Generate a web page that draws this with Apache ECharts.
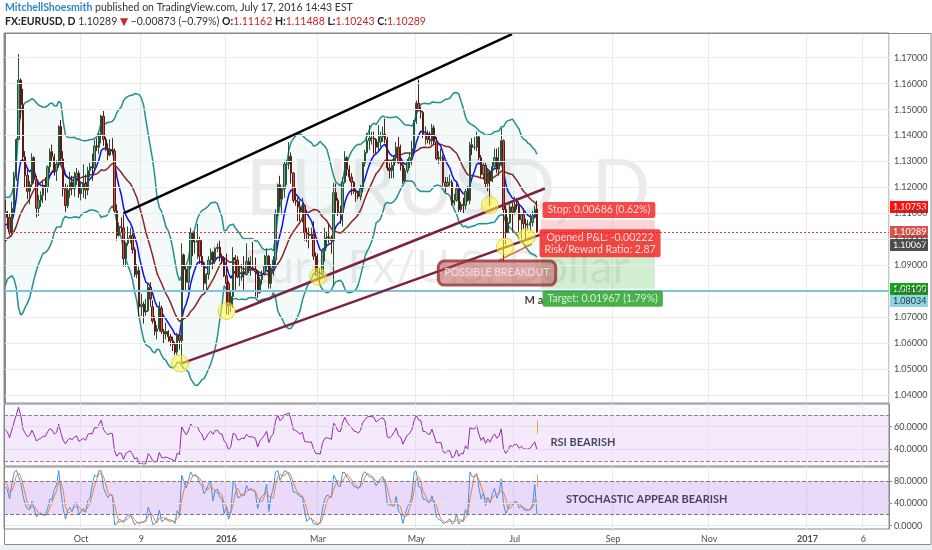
<!DOCTYPE html>
<html lang="en">
<head>
<meta charset="utf-8">
<title>FX:EURUSD, D</title>
<script src="https://cdn.jsdelivr.net/npm/echarts@6/dist/echarts.min.js"></script>
<style>
    html, body { margin: 0; padding: 0; background: #fff; }
    #chartMain { width: 932px; height: 550px; }
</style>
</head>
<body>
<div id="chartMain"></div>
<script>
// daily bars, one row per trading day: [open, high, low, close]
// July 2015 and early August are only there to warm up the indicators
var jul2015 = [
    [1.1160,1.1200,1.0990,1.1005],[1.1005,1.1065,1.0985,1.1010],[1.1010,1.1045,1.0945,1.0950],
    [1.0950,1.0970,1.0865,1.0875],[1.0875,1.0900,1.0810,1.0830],[1.0830,1.0870,1.0808,1.0825],
    [1.0825,1.0945,1.0815,1.0935],[1.0935,1.0950,1.0890,1.0930],[1.0930,1.1000,1.0925,1.0985],
    [1.0985,1.0990,1.0955,1.0980],[1.0980,1.1130,1.0975,1.1085],[1.1085,1.1095,1.1020,1.1060],
    [1.1060,1.1070,1.0975,1.0985],[1.0985,1.0990,1.0890,1.0935],[1.0935,1.1110,1.0920,1.0985]
];
var aug2015 = [
    [1.0985,1.0990,1.0935,1.0955],[1.0955,1.0985,1.0880,1.0890],[1.0890,1.0930,1.0850,1.0905],
    [1.0905,1.0935,1.0890,1.0925],[1.0925,1.0985,1.0850,1.0965],[1.0965,1.1035,1.0960,1.1015],
    [1.1015,1.1060,1.0960,1.1040],[1.1040,1.1215,1.1030,1.1165],[1.1165,1.1185,1.1110,1.1150],
    [1.1150,1.1175,1.1090,1.1105],[1.1105,1.1110,1.1040,1.1085],[1.1085,1.1100,1.1015,1.1025],
    [1.1025,1.1145,1.1010,1.1120],[1.1120,1.1260,1.1105,1.1240],[1.1240,1.1390,1.1225,1.1385],
    [1.1385,1.1714,1.1385,1.1614],[1.1614,1.1620,1.1465,1.1518],[1.1518,1.1580,1.1300,1.1318],
    [1.1318,1.1340,1.1200,1.1246],[1.1246,1.1270,1.1155,1.1185],[1.1185,1.1225,1.1135,1.1211]
];
var sep2015 = [
    [1.1211,1.1332,1.1200,1.1315],[1.1315,1.1320,1.1215,1.1230],[1.1230,1.1245,1.1085,1.1120],
    [1.1120,1.1170,1.1090,1.1150],[1.1150,1.1185,1.1125,1.1170],[1.1170,1.1225,1.1140,1.1205],
    [1.1205,1.1240,1.1150,1.1200],[1.1200,1.1285,1.1180,1.1280],[1.1280,1.1350,1.1255,1.1338],
    [1.1338,1.1365,1.1300,1.1318],[1.1318,1.1330,1.1245,1.1265],[1.1265,1.1305,1.1225,1.1290],
    [1.1290,1.1440,1.1275,1.1435],[1.1435,1.1460,1.1290,1.1310],[1.1310,1.1340,1.1165,1.1195],
    [1.1195,1.1215,1.1105,1.1130],[1.1130,1.1210,1.1120,1.1190],[1.1190,1.1260,1.1160,1.1220],
    [1.1220,1.1245,1.1170,1.1195],[1.1195,1.1260,1.1165,1.1240],[1.1240,1.1275,1.1210,1.1255],
    [1.1255,1.1265,1.1160,1.1176]
];
var oct2015 = [
    [1.1176,1.1225,1.1150,1.1195],[1.1195,1.1290,1.1160,1.1215],[1.1215,1.1250,1.1155,1.1190],
    [1.1190,1.1280,1.1170,1.1265],[1.1265,1.1295,1.1240,1.1280],[1.1280,1.1330,1.1225,1.1275],
    [1.1275,1.1385,1.1270,1.1360],[1.1360,1.1390,1.1340,1.1355],[1.1355,1.1410,1.1330,1.1405],
    [1.1405,1.1480,1.1370,1.1475],[1.1475,1.1495,1.1360,1.1385],[1.1385,1.1395,1.1340,1.1350],
    [1.1350,1.1370,1.1305,1.1325],[1.1325,1.1385,1.1320,1.1345],[1.1345,1.1390,1.1330,1.1340],
    [1.1340,1.1350,1.1105,1.1110],[1.1110,1.1135,1.0995,1.1015],[1.1015,1.1065,1.1010,1.1050],
    [1.1050,1.1085,1.1025,1.1045],[1.1045,1.1095,1.0895,1.0925],[1.0925,1.0990,1.0895,1.0985],
    [1.0985,1.1050,1.0975,1.1005]
];
var nov2015 = [
    [1.1005,1.1045,1.0985,1.1015],[1.1015,1.1030,1.0945,1.0960],[1.0960,1.0970,1.0855,1.0865],
    [1.0865,1.0905,1.0850,1.0880],[1.0880,1.0895,1.0705,1.0740],[1.0740,1.0790,1.0705,1.0750],
    [1.0750,1.0760,1.0675,1.0720],[1.0720,1.0770,1.0705,1.0725],[1.0725,1.0830,1.0720,1.0815],
    [1.0815,1.0835,1.0740,1.0770],[1.0740,1.0765,1.0675,1.0685],[1.0685,1.0705,1.0630,1.0645],
    [1.0645,1.0670,1.0615,1.0655],[1.0655,1.0760,1.0645,1.0735],[1.0735,1.0745,1.0635,1.0645],
    [1.0645,1.0655,1.0600,1.0635],[1.0635,1.0680,1.0615,1.0645],[1.0645,1.0650,1.0605,1.0625],
    [1.0625,1.0635,1.0590,1.0610],[1.0610,1.0625,1.0570,1.0595],[1.0595,1.0605,1.0555,1.0565]
];
var dec2015 = [
    [1.0565,1.0640,1.0555,1.0630],[1.0630,1.0635,1.0575,1.0610],[1.0610,1.0985,1.0524,1.0940],
    [1.0940,1.0945,1.0800,1.0885],[1.0885,1.0895,1.0800,1.0835],[1.0835,1.0900,1.0800,1.0895],
    [1.0895,1.1045,1.0885,1.1025],[1.1025,1.1030,1.0935,1.0990],[1.0990,1.1030,1.0945,1.0990],
    [1.0990,1.1060,1.0925,1.0995],[1.0995,1.1010,1.0905,1.0935],[1.0935,1.1000,1.0895,1.0910],
    [1.0910,1.0915,1.0805,1.0830],[1.0830,1.0870,1.0805,1.0865],[1.0865,1.0935,1.0845,1.0920],
    [1.0920,1.0965,1.0900,1.0950],[1.0950,1.0955,1.0885,1.0915],[1.0915,1.0970,1.0905,1.0965],
    [1.0965,1.0985,1.0950,1.0970],[1.0970,1.0995,1.0915,1.0935],[1.0935,1.0945,1.0905,1.0930],
    [1.0930,1.0935,1.0855,1.0860]
];
var jan2016 = [
    [1.0860,1.0945,1.0710,1.0830],[1.0830,1.0840,1.0710,1.0745],[1.0745,1.0800,1.0720,1.0780],
    [1.0780,1.0970,1.0735,1.0930],[1.0930,1.0940,1.0805,1.0920],[1.0920,1.0935,1.0850,1.0855],
    [1.0855,1.0900,1.0820,1.0855],[1.0855,1.0905,1.0840,1.0875],[1.0875,1.0935,1.0805,1.0865],
    [1.0865,1.0985,1.0860,1.0915],[1.0915,1.0930,1.0870,1.0890],[1.0890,1.0935,1.0860,1.0890],
    [1.0890,1.0990,1.0880,1.0885],[1.0885,1.0930,1.0780,1.0875],[1.0875,1.0880,1.0775,1.0795],
    [1.0795,1.0855,1.0790,1.0845],[1.0845,1.0880,1.0825,1.0870],[1.0870,1.0940,1.0860,1.0895],
    [1.0895,1.0965,1.0885,1.0935],[1.0935,1.0940,1.0810,1.0830]
];
var feb2016 = [
    [1.0830,1.0905,1.0810,1.0890],[1.0890,1.0935,1.0860,1.0920],[1.0920,1.1115,1.0900,1.1100],
    [1.1100,1.1215,1.1090,1.1210],[1.1210,1.1245,1.1125,1.1155],[1.1155,1.1200,1.1095,1.1195],
    [1.1195,1.1300,1.1160,1.1290],[1.1290,1.1305,1.1210,1.1290],[1.1290,1.1375,1.1270,1.1320],
    [1.1320,1.1335,1.1215,1.1255],[1.1255,1.1260,1.1140,1.1150],[1.1150,1.1200,1.1130,1.1145],
    [1.1145,1.1160,1.1070,1.1125],[1.1125,1.1150,1.1070,1.1105],[1.1105,1.1160,1.1065,1.1130],
    [1.1130,1.1135,1.0995,1.1025],[1.1025,1.1045,1.0990,1.1020],[1.1020,1.1045,1.0965,1.1015],
    [1.1015,1.1045,1.1000,1.1020],[1.1020,1.1070,1.0920,1.0935],[1.0935,1.0950,1.0860,1.0875]
];
var mar2016 = [
    [1.0875,1.0945,1.0860,1.0870],[1.0870,1.0890,1.0830,1.0865],[1.0865,1.0965,1.0860,1.0955],
    [1.0955,1.1045,1.0915,1.1005],[1.1005,1.1030,1.0965,1.1010],[1.1010,1.1060,1.0985,1.1005],
    [1.1005,1.1015,1.0945,1.0995],[1.0995,1.1218,1.0822,1.1180],[1.1180,1.1215,1.1100,1.1150],
    [1.1150,1.1160,1.1090,1.1105],[1.1105,1.1130,1.1060,1.1100],[1.1100,1.1240,1.1050,1.1220],
    [1.1220,1.1340,1.1215,1.1315],[1.1315,1.1320,1.1245,1.1270],[1.1270,1.1285,1.1225,1.1240],
    [1.1240,1.1255,1.1170,1.1220],[1.1220,1.1225,1.1175,1.1185],[1.1185,1.1195,1.1145,1.1180],
    [1.1180,1.1185,1.1155,1.1165],[1.1165,1.1210,1.1150,1.1195],[1.1195,1.1300,1.1180,1.1295],
    [1.1295,1.1345,1.1280,1.1335],[1.1335,1.1410,1.1330,1.1380]
];
var apr2016 = [
    [1.1380,1.1440,1.1345,1.1390],[1.1390,1.1415,1.1365,1.1390],[1.1390,1.1415,1.1330,1.1385],
    [1.1385,1.1390,1.1325,1.1355],[1.1355,1.1440,1.1340,1.1375],[1.1375,1.1415,1.1355,1.1395],
    [1.1395,1.1435,1.1375,1.1405],[1.1405,1.1465,1.1370,1.1385],[1.1385,1.1395,1.1265,1.1275],
    [1.1275,1.1295,1.1235,1.1265],[1.1265,1.1305,1.1235,1.1285],[1.1285,1.1325,1.1235,1.1315],
    [1.1315,1.1375,1.1295,1.1355],[1.1355,1.1395,1.1290,1.1295],[1.1295,1.1365,1.1265,1.1285],
    [1.1285,1.1300,1.1215,1.1225],[1.1225,1.1275,1.1220,1.1265],[1.1265,1.1310,1.1255,1.1300],
    [1.1300,1.1335,1.1275,1.1315],[1.1315,1.1380,1.1285,1.1350],[1.1350,1.1460,1.1335,1.1455]
];
var may2016 = [
    [1.1455,1.1535,1.1445,1.1525],[1.1525,1.1616,1.1495,1.1495],[1.1495,1.1510,1.1465,1.1490],
    [1.1490,1.1495,1.1390,1.1405],[1.1405,1.1435,1.1365,1.1405],[1.1405,1.1420,1.1370,1.1385],
    [1.1385,1.1415,1.1365,1.1380],[1.1380,1.1445,1.1365,1.1430],[1.1430,1.1440,1.1365,1.1375],
    [1.1375,1.1395,1.1305,1.1310],[1.1310,1.1340,1.1290,1.1315],[1.1315,1.1350,1.1300,1.1315],
    [1.1315,1.1325,1.1205,1.1220],[1.1220,1.1240,1.1180,1.1205],[1.1205,1.1240,1.1200,1.1220],
    [1.1220,1.1250,1.1205,1.1220],[1.1220,1.1230,1.1130,1.1140],[1.1140,1.1175,1.1130,1.1150],
    [1.1150,1.1215,1.1145,1.1195],[1.1195,1.1200,1.1105,1.1115],[1.1115,1.1145,1.1105,1.1135],
    [1.1135,1.1160,1.1100,1.1130]
];
var jun2016 = [
    [1.1130,1.1195,1.1115,1.1185],[1.1185,1.1205,1.1145,1.1150],[1.1150,1.1375,1.1135,1.1365],
    [1.1365,1.1390,1.1325,1.1355],[1.1355,1.1395,1.1345,1.1355],[1.1355,1.1415,1.1340,1.1395],
    [1.1395,1.1400,1.1305,1.1315],[1.1315,1.1325,1.1235,1.1250],[1.1250,1.1295,1.1230,1.1285],
    [1.1285,1.1295,1.1200,1.1215],[1.1215,1.1275,1.1185,1.1260],[1.1260,1.1265,1.1130,1.1225],
    [1.1225,1.1300,1.1220,1.1280],[1.1280,1.1350,1.1275,1.1315],[1.1315,1.1350,1.1255,1.1270],
    [1.1270,1.1355,1.1245,1.1295],[1.1295,1.1428,1.1285,1.1380],[1.1380,1.1385,1.0912,1.1115],
    [1.1115,1.1130,1.0980,1.1025],[1.1025,1.1085,1.1025,1.1065],[1.1065,1.1135,1.1060,1.1125],
    [1.1125,1.1140,1.1030,1.1105]
];
var jul2016 = [
    [1.1105,1.1165,1.1095,1.1135],[1.1135,1.1160,1.1115,1.1130],[1.1130,1.1145,1.1030,1.1075],
    [1.1075,1.1100,1.0995,1.1095],[1.1095,1.1120,1.1040,1.1060],[1.1060,1.1080,1.0995,1.1055],
    [1.1055,1.1075,1.1035,1.1055],[1.1055,1.1100,1.1030,1.1065],[1.1065,1.1110,1.1050,1.1090],
    [1.1090,1.1130,1.1080,1.1116],[1.11162,1.11488,1.10243,1.10289]
];

var firstDay = '2015-07-13';
var firstShownDay = '2015-08-14';
var lastAxisDay = '2017-02-21';
var holidays = ['2015-12-25', '2016-01-01'];

var tickDays = ['2015-10-01', '2015-11-09', '2016-01-04', '2016-03-01', '2016-05-02',
                '2016-07-01', '2016-09-01', '2016-11-01', '2017-01-02', '2017-02-06'];
var tickNames = ['Oct', '9', '2016', 'Mar', 'May', 'Jul', 'Sep', 'Nov', '2017', '6'];
var priceTicks = [1.04, 1.05, 1.06, 1.07, 1.08, 1.09, 1.10, 1.11, 1.12, 1.13, 1.14, 1.15, 1.16, 1.17];
var rsiTicks = [40, 60];
var stochTicks = [0, 40, 80];

// drawings, in (bar number from the first shown day, price)
var resistanceLine = [[52.9, 1.1100], [226.8, 1.1791]];
var upperChannel = [[102.9, 1.0720], [241.5, 1.1196]];
var lowerChannel = [[79.0, 1.0522], [239.3, 1.1017]];
var breakoutLine = [[220.5, 1.0917], [235.7, 1.0982]];
var touchPoints = [[78.3, 1.0522], [99.1, 1.0724], [140.1, 1.0856], [216.9, 1.1132], [223.7, 1.0972], [233.4, 1.1010]];
var entryPrice = 1.10067, stopPrice = 1.10753, targetPrice = 1.08100;
var lastClose = 1.10289, supportPrice = 1.08034;
var positionBars = [239.8, 290.8];

var axisTagValues = [1.10753, 1.10289, 1.10067, 1.08100, 1.08034];
var axisTagShift = [-13, 0, 7, 0, 11];
var axisTagFill = ['#ff1010', '#d9534f', '#4d4d4d', '#16a216', '#92d3e4'];
var axisTagInk = ['#fff', '#fff', '#fff', '#fff', '#1d3640'];

var font = 'Lato, "DejaVu Sans", sans-serif';

function ymd(d) { return d.toISOString().slice(0, 10); }
var allDays = [];
for (var t = Date.parse(firstDay); t <= Date.parse(lastAxisDay); t += 864e5) {
    var dd = new Date(t), wd = dd.getUTCDay();
    if (wd === 0 || wd === 6 || holidays.indexOf(ymd(dd)) >= 0) continue;
    allDays.push(ymd(dd));
}
var bars = [].concat(jul2015, aug2015, sep2015, oct2015, nov2015, dec2015,
                     jan2016, feb2016, mar2016, apr2016, may2016, jun2016, jul2016);
var warm = allDays.indexOf(firstShownDay);
var days = allDays.slice(warm);
var N = days.length;

var O = bars.map(function (b) { return b[0]; });
var H = bars.map(function (b) { return b[1]; });
var L = bars.map(function (b) { return b[2]; });
var C = bars.map(function (b) { return b[3]; });

// bollinger 20/2, its basis, ema 9
var basis = [], upper = [], lower = [], ema9 = [];
for (var i = 0; i < C.length; i++) {
    if (i < 19) { basis.push('-'); upper.push('-'); lower.push('-'); }
    else {
        var s = 0, v = 0, k;
        for (k = i - 19; k <= i; k++) s += C[k];
        var m = s / 20;
        for (k = i - 19; k <= i; k++) v += (C[k] - m) * (C[k] - m);
        var sd = Math.sqrt(v / 20);
        basis.push(m); upper.push(m + 2 * sd); lower.push(m - 2 * sd);
    }
    if (i < 8) ema9.push('-');
    else if (i === 8) { var s9 = 0; for (var j = 0; j < 9; j++) s9 += C[j]; ema9.push(s9 / 9); }
    else ema9.push(ema9[i - 1] + 0.2 * (C[i] - ema9[i - 1]));
}
// rsi 14
var rsi = ['-'], ag = 0, al = 0;
for (i = 1; i < C.length; i++) {
    var ch = C[i] - C[i - 1], g = Math.max(ch, 0), l = Math.max(-ch, 0);
    if (i <= 14) {
        ag += g; al += l;
        if (i === 14) { ag /= 14; al /= 14; rsi.push(100 - 100 / (1 + ag / al)); }
        else rsi.push('-');
    } else {
        ag = (ag * 13 + g) / 14; al = (al * 13 + l) / 14;
        rsi.push(100 - 100 / (1 + ag / al));
    }
}
// stochastic 14,1,3
var stK = [], stD = [];
for (i = 0; i < C.length; i++) {
    if (i < 13) { stK.push('-'); stD.push('-'); continue; }
    var hh = -1, ll = 9;
    for (k = i - 13; k <= i; k++) { hh = Math.max(hh, H[k]); ll = Math.min(L[k], ll); }
    stK.push(100 * (C[i] - ll) / (hh - ll));
    stD.push(i < 15 ? '-' : (stK[i] + stK[i - 1] + stK[i - 2]) / 3);
}

function shown(a) { return a.slice(warm); }
var candles = shown(bars).map(function (b) { return [b[0], b[3], b[2], b[1]]; });
var bandWidth = shown(upper).map(function (u, n) { return u === '-' ? '-' : u - lower[warm + n]; });

var tickOf = {};
tickDays.forEach(function (d, n) { tickOf[d] = tickNames[n]; });
function isTick(idx, val) { return val in tickOf; }

var chart = echarts.init(document.getElementById('chartMain'));

function flat(color, width, type) {
    return { color: color, width: width || 1, type: type || 'solid' };
}
function hLines(values, color, type) {
    return values.map(function (y) { return { yAxis: y, lineStyle: flat(color, 1, type) }; });
}
function drawLine(name, pts, color, width) {
    return {
        name: name, type: 'line', xAxisIndex: 3, yAxisIndex: 0, data: pts, symbol: 'none',
        silent: true, z: 6, lineStyle: { color: color, width: width }
    };
}
function noteLabel(text, fill, extra) {
    var lab = {
        show: true, position: 'inside', formatter: text, color: '#fff', backgroundColor: fill,
        padding: [2, 5], borderRadius: 2, fontSize: 10.5, fontFamily: font, lineHeight: 12, align: 'center'
    };
    for (var key in extra) lab[key] = extra[key];
    return lab;
}

var lastDay = days[candles.length - 1];

var option = {
    animation: false,
    backgroundColor: '#fff',
    grid: [
        { left: 4, right: 43, top: 33, height: 370, show: true, borderColor: '#8a8a8a', borderWidth: 1 },
        { left: 4, right: 43, top: 404, height: 62, show: true, borderColor: '#8a8a8a', borderWidth: 1,
          backgroundColor: 'rgba(170,90,230,0.05)' },
        { left: 4, right: 43, top: 467, height: 62, show: true, borderColor: '#8a8a8a', borderWidth: 1 }
    ],
    xAxis: [0, 1, 2].map(function (gi) {
        return {
            type: 'category', gridIndex: gi, data: days,
            axisLine: { show: false }, axisTick: { show: false },
            splitLine: { show: true, interval: isTick, lineStyle: { color: '#ebebeb' } },
            axisLabel: gi < 2 ? { show: false } : {
                show: true, interval: isTick, margin: 6, fontSize: 9, color: '#4a4a4a', fontFamily: font,
                formatter: function (v) {
                    var s = tickOf[v];
                    return /^\d{4}$/.test(s) ? '{b|' + s + '}' : s;
                },
                rich: { b: { fontWeight: 'bold', fontSize: 9, color: '#4a4a4a', fontFamily: font } }
            }
        };
    }).concat([{ type: 'value', gridIndex: 0, min: -0.5, max: N - 0.5, show: false }]),
    yAxis: [
        { type: 'value', gridIndex: 0, position: 'right', min: 1.03694, max: 1.17952,
          splitLine: { show: false },
          axisLine: { show: true, lineStyle: { color: '#8a8a8a' } },
          axisTick: { show: true, length: 3, customValues: priceTicks, lineStyle: { color: '#8a8a8a' } },
          axisLabel: { customValues: priceTicks, margin: 5, fontSize: 9, color: '#4a4a4a', fontFamily: font,
                       formatter: function (v) { return v.toFixed(5); } } },
        { type: 'value', gridIndex: 1, position: 'right', min: 25.66, max: 79.74,
          splitLine: { show: false },
          axisLine: { show: true, lineStyle: { color: '#8a8a8a' } },
          axisTick: { show: true, length: 3, customValues: rsiTicks, lineStyle: { color: '#8a8a8a' } },
          axisLabel: { customValues: rsiTicks, margin: 5, fontSize: 9, color: '#4a4a4a', fontFamily: font,
                       formatter: function (v) { return v.toFixed(4); } } },
        { type: 'value', gridIndex: 2, position: 'right', min: -5.9, max: 105,
          splitLine: { show: false },
          axisLine: { show: true, lineStyle: { color: '#8a8a8a' } },
          axisTick: { show: true, length: 3, customValues: stochTicks, lineStyle: { color: '#8a8a8a' } },
          axisLabel: { customValues: stochTicks, margin: 5, fontSize: 9, color: '#4a4a4a', fontFamily: font,
                       formatter: function (v) { return v.toFixed(4); } } }
    ],
    series: [
        {
            name: 'bbBase', type: 'line', stack: 'bb', data: shown(lower), symbol: 'none', silent: true,
            lineStyle: { opacity: 0 }, z: 1,
            markLine: {
                silent: true, symbol: ['none', 'none'], label: { show: false }, precision: 5,
                data: hLines(priceTicks, '#ececec', 'solid')
            }
        },
        {
            name: 'bbFill', type: 'line', stack: 'bb', data: bandWidth, symbol: 'none', silent: true,
            lineStyle: { opacity: 0 }, areaStyle: { color: 'rgba(95,165,190,0.10)' }, z: 1
        },
        {
            name: 'levels', type: 'line', data: [], symbol: 'none', silent: true, z: 3,
            markLine: {
                silent: true, symbol: ['none', 'none'], label: { show: false }, precision: 5,
                data: [
                    { yAxis: supportPrice, lineStyle: flat('#7cc8d8', 2) },
                    { yAxis: lastClose, lineStyle: { color: '#e0403a', width: 1, type: [2, 2] } }
                ]
            }
        },
        { name: 'BB upper', type: 'line', data: shown(upper), symbol: 'none', silent: true, z: 3,
          lineStyle: { color: '#23908e', width: 1.5 } },
        { name: 'BB lower', type: 'line', data: shown(lower), symbol: 'none', silent: true, z: 3,
          lineStyle: { color: '#23908e', width: 1.5 } },
        { name: 'SMA 20', type: 'line', data: shown(basis), symbol: 'none', silent: true, z: 3,
          lineStyle: { color: '#8e2326', width: 1.5 } },
        { name: 'EMA 9', type: 'line', data: shown(ema9), symbol: 'none', silent: true, z: 3,
          lineStyle: { color: '#1010ee', width: 1.5 } },
        {
            name: 'EURUSD', type: 'candlestick', data: candles, barWidth: '80%', z: 4,
            itemStyle: { color: '#6ba583', color0: '#d75442', borderColor: '#225437', borderColor0: '#5b1a13', borderWidth: 1 }
        },
        {
            name: 'position', type: 'line', xAxisIndex: 3, yAxisIndex: 0, data: [], symbol: 'none', silent: true, z: 2,
            markArea: {
                silent: true, precision: 5,
                data: [
                    [{ xAxis: positionBars[0], yAxis: stopPrice, itemStyle: { color: 'rgba(240,70,70,0.22)' } },
                     { xAxis: positionBars[1], yAxis: entryPrice }],
                    [{ xAxis: positionBars[0], yAxis: entryPrice, itemStyle: { color: 'rgba(80,185,80,0.25)' } },
                     { xAxis: positionBars[1], yAxis: targetPrice }]
                ]
            }
        },
        drawLine('resistance', resistanceLine, '#000', 2.5),
        drawLine('channel top', upperChannel, '#7b2340', 2.5),
        drawLine('channel bottom', lowerChannel, '#7b2340', 2.5),
        drawLine('breakout', breakoutLine, '#e0672e', 1.5),
        {
            name: 'touches', type: 'scatter', xAxisIndex: 3, yAxisIndex: 0, data: touchPoints, symbolSize: 17,
            silent: true, z: 7,
            itemStyle: { color: 'rgba(255,248,60,0.7)', borderColor: 'rgba(215,195,30,0.9)', borderWidth: 1 }
        },
        {
            name: 'notes', type: 'scatter', xAxisIndex: 3, yAxisIndex: 0, symbolSize: 0, silent: true, z: 8,
            data: [
                { value: [236.6, 1.0766], label: noteLabel('M a', 'transparent', { color: '#111', fontWeight: 'bold', fontSize: 11, padding: 0 }) },
                { value: [265.7, 1.1113], label: noteLabel('Stop: 0.00686 (0.62%)', '#f51b1b') },
                { value: [266.2, 1.0985], label: noteLabel('Opened P&L: -0.00222\nRisk/Reward Ratio: 2.87', '#f51b1b') },
                { value: [267.4, 1.0771], label: noteLabel('Target: 0.01967 (1.79%)', '#1b9e1b') },
                { value: [220.1, 1.0870], label: noteLabel('POSSIBLE BREAKOUT', 'rgba(180,72,72,0.62)', {
                    color: '#fbecec', borderColor: '#8e2a2a', borderWidth: 1.5, borderRadius: 6, padding: [6, 6] }) }
            ]
        },
        {
            name: 'RSI', type: 'line', xAxisIndex: 1, yAxisIndex: 1, data: shown(rsi), symbol: 'none', silent: true,
            lineStyle: { color: '#9a2aa8', width: 1 },
            markArea: { silent: true, data: [[{ yAxis: 70, itemStyle: { color: 'rgba(170,90,230,0.08)' } }, { yAxis: 30 }]] },
            markLine: {
                silent: true, symbol: ['none', 'none'], label: { show: false }, precision: 2,
                data: hLines(rsiTicks, '#e2dbe8', 'solid').concat(hLines([30, 70], '#8a8a8a', 'dashed')).concat([
                    [{ coord: [lastDay, 65.2], lineStyle: flat('#e8a33a', 1) }, { coord: [lastDay, 54] }]
                ])
            }
        },
        {
            name: 'RSI note', type: 'scatter', xAxisIndex: 1, yAxisIndex: 1, symbolSize: 0, silent: true,
            data: [{ value: [days[244], 46.3], label: { show: true, position: 'right', distance: 0, formatter: 'RSI BEARISH',
                     color: '#1c1c3c', fontWeight: 'bold', fontSize: 11, fontFamily: font } }]
        },
        {
            name: '%K', type: 'line', xAxisIndex: 2, yAxisIndex: 2, data: shown(stK), symbol: 'none', silent: true,
            lineStyle: { color: '#3d93e8', width: 1 },
            markArea: { silent: true, data: [[{ yAxis: 80, itemStyle: { color: 'rgba(160,80,230,0.22)' } }, { yAxis: 20 }]] },
            markLine: {
                silent: true, symbol: ['none', 'none'], label: { show: false }, precision: 2,
                data: hLines(stochTicks, '#e4e4e4', 'solid').concat(hLines([20, 80], '#7a7a7a', 'dashed')).concat([
                    [{ coord: [lastDay, 90.7], lineStyle: flat('#e8a33a', 1) }, { coord: [lastDay, 69.3] }]
                ])
            }
        },
        { name: '%D', type: 'line', xAxisIndex: 2, yAxisIndex: 2, data: shown(stD), symbol: 'none', silent: true,
          lineStyle: { color: '#f0803c', width: 1 } },
        {
            name: 'stoch note', type: 'scatter', xAxisIndex: 2, yAxisIndex: 2, symbolSize: 0, silent: true,
            data: [{ value: [days[251], 47.8], label: { show: true, position: 'right', distance: 0, formatter: 'STOCHASTIC APPEAR BEARISH',
                     color: '#1c1c3c', fontWeight: 'bold', fontSize: 11, fontFamily: font } }]
        }
    ]
};
chart.setOption(option);

var graphics = [
    { type: 'rect', z: -10, silent: true, shape: { x: 0, y: 545, width: 932, height: 5 }, style: { fill: '#eef1f3' } },
    { type: 'rect', z: 50, silent: true, shape: { x: 4.5, y: 33.5, width: 926.5, height: 511 },
      style: { fill: 'none', stroke: '#8a8a8a', lineWidth: 1 } },
    { type: 'text', z: -1, silent: true, x: 448, y: 190,
      style: { text: 'EURUSD, D', font: '78px ' + font, fill: 'rgba(0,0,0,0.08)', textAlign: 'center', textVerticalAlign: 'middle' } },
    { type: 'text', z: -1, silent: true, x: 436, y: 268,
      style: { text: 'Euro Fx/U.S. Dollar', font: '46px ' + font, fill: 'rgba(0,0,0,0.08)', textAlign: 'center', textVerticalAlign: 'middle' } },
    { type: 'text', silent: true, x: 5, y: 8,
      style: { text: '{u|MitchellShoesmith} published on TradingView.com, July 17, 2016 14:43 EST',
               font: '10.5px ' + font, fill: '#333', textVerticalAlign: 'middle',
               rich: { u: { fill: '#2b86c8', fontWeight: 'bold', fontSize: 10.5, fontFamily: font } } } },
    { type: 'text', silent: true, x: 5, y: 22,
      style: { text: '{b|FX:EURUSD, D} 1.10289 {r|\u25BC} \u22120.00873 (\u22120.79%) {b|O:}{r|1.11162} {b|H:}{r|1.11488} {b|L:}{r|1.10243} {b|C:}{r|1.10289}',
               font: '10.5px ' + font, fill: '#333', textVerticalAlign: 'middle',
               rich: { b: { fontWeight: 'bold', fill: '#222', fontSize: 10.5, fontFamily: font },
                       r: { fill: '#c62828', fontSize: 10.5, fontFamily: font } } } }
];
axisTagValues.forEach(function (v, n) {
    var y = chart.convertToPixel({ yAxisIndex: 0 }, v) + axisTagShift[n];
    graphics.push({
        type: 'group', x: 890, y: Math.round(y) - 6, z: 60, silent: true,
        children: [
            { type: 'rect', shape: { x: 0, y: 0, width: 38, height: 12 }, style: { fill: axisTagFill[n] } },
            { type: 'text', x: 3, y: 6, style: { text: v.toFixed(5), font: '9px ' + font, fill: axisTagInk[n], textVerticalAlign: 'middle' } }
        ]
    });
});
chart.setOption({ graphic: graphics });
</script>
</body>
</html>
